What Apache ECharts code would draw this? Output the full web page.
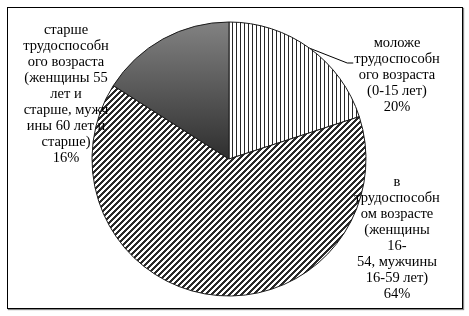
<!DOCTYPE html>
<html><head><meta charset="utf-8">
<script src="https://cdn.jsdelivr.net/npm/echarts@6/dist/echarts.min.js"></script>
<style>
html,body{margin:0;padding:0;background:#fff;}
#frame{position:absolute;left:7px;top:7px;width:454px;height:300px;border:1px solid #000;box-shadow:1px 1px 1px #888;}
#chart{position:absolute;left:0;top:0;width:469px;height:316px;}
</style></head>
<body><div id="frame"></div><div id="chart"></div>
<script>
// Data
const categories = [
  'моложе\nтрудоспособн\nого возраста\n(0-15 лет)',
  'в\nтрудоспособн\nом возрасте\n(женщины\n16-\n54, мужчины\n16-59 лет)',
  'старше\nтрудоспособн\nого возраста\n(женщины 55\nлет и\nстарше, мужч\nины 60 лет и\nстарше)'
];
const values = [20, 64, 16];

// Styles / layout
const CX = 229, CY = 159, R = 137;
const labelPos = [[397, 75], [397, 238], [66, 94]];

function vlines() {
  const c = document.createElement('canvas'); c.width = 4; c.height = 4;
  const g = c.getContext('2d');
  g.fillStyle = '#fff'; g.fillRect(0, 0, 4, 4);
  g.fillStyle = '#262626'; g.fillRect(0, 0, 1, 4);
  return c;
}
function diag() {
  const n = 6;
  const c = document.createElement('canvas'); c.width = n; c.height = n;
  const g = c.getContext('2d');
  g.fillStyle = '#fff'; g.fillRect(0, 0, n, n);
  g.fillStyle = '#2a2a2a';
  for (let y = 0; y < n; y++) for (let x = 0; x < n; x++) {
    if ((x + y) % n < 3) g.fillRect(x, y, 1, 1);
  }
  return c;
}
const fills = [
  { image: vlines(), repeat: 'repeat' },
  { image: diag(), repeat: 'repeat' },
  { type: 'linear', x: 0, y: 0, x2: 0, y2: 1, colorStops: [
    { offset: 0, color: '#828282' }, { offset: 1, color: '#2e2e2e' }] }
];

const total = values.reduce((a, b) => a + b, 0);

const chart = echarts.init(document.getElementById('chart'), null, { renderer: 'canvas' });
chart.setOption({
  animation: false,
  backgroundColor: 'transparent',
  series: [{
    type: 'pie',
    center: [CX, CY],
    radius: R,
    startAngle: 90,
    clockwise: true,
    silent: true,
    data: categories.map((name, i) => ({
      name: name,
      value: values[i],
      itemStyle: { color: fills[i], borderColor: '#1a1a1a', borderWidth: 1 },
      labelLine: { show: i === 0, lineStyle: { color: '#000', width: 1 } }
    })),
    label: {
      show: true,
      position: 'outside',
      formatter: p => p.name + '\n' + p.value + '%',
      fontFamily: 'Liberation Serif, Times New Roman, serif',
      fontSize: 14.5,
      lineHeight: 16,
      color: '#000',
      align: 'center'
    },
    labelLine: { show: true, lineStyle: { color: '#000', width: 1 } },
    labelLayout: function (p) {
      const i = p.dataIndex;
      const pos = labelPos[i];
      const res = { x: pos[0], y: pos[1], align: 'center', verticalAlign: 'middle' };
      if (i === 0) {
        let before = 0;
        for (let k = 0; k < i; k++) before += values[k];
        const mid = (before + values[i] / 2) / total * 2 * Math.PI;
        const ax = CX + R * Math.sin(mid), ay = CY - R * Math.cos(mid);
        const w = p.labelRect.width, h = p.labelRect.height;
        const ex = pos[0] - w / 2 - 1, ey = pos[1] - h / 2 + 28;
        res.labelLinePoints = [[ax, ay], [ex - 6, ey], [ex, ey]];
      }
      return res;
    }
  }]
});
</script>
</body></html>
